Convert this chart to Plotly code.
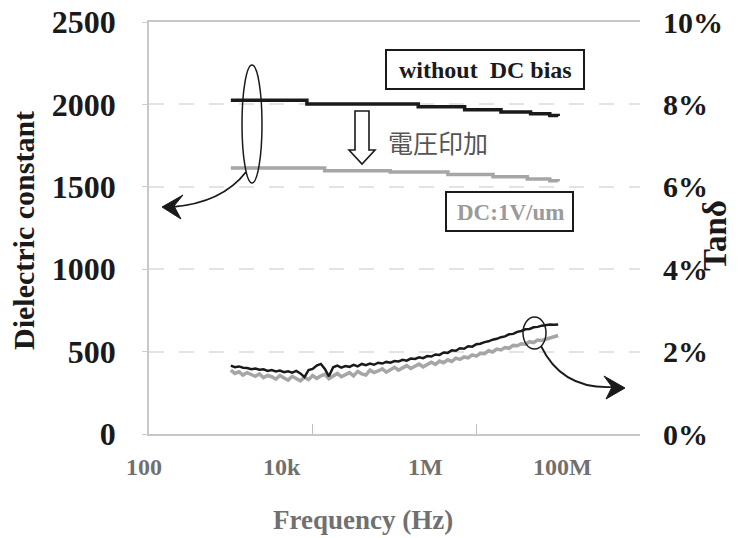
import plotly.graph_objects as go

# ---------------- data ----------------
# Dielectric constant (step-like traces)
eps_freq_nobias = [1.0e3, 8.5e3, 1.95e5, 7.2e5, 2.0e6, 4.6e6, 7.9e6, 1.0e7]
eps_nobias = [2025, 2003, 1986, 1967, 1954, 1943, 1932, 1930]
eps_freq_bias = [1.0e3, 1.4e4, 8.9e4, 4.5e5, 1.6e6, 4.2e6, 7.9e6, 1.0e7]
eps_bias = [1614, 1597, 1590, 1574, 1561, 1548, 1536, 1533]

# Tan delta (%)
tan_freq = [1.00e3, 1.12e3, 1.26e3, 1.41e3, 1.58e3, 1.78e3, 2.00e3, 2.24e3, 2.51e3, 2.82e3,
            3.16e3, 3.55e3, 3.98e3, 4.47e3, 5.01e3, 5.62e3, 6.31e3, 7.08e3, 7.94e3, 8.91e3,
            1.00e4, 1.12e4, 1.26e4, 1.41e4, 1.58e4, 1.78e4, 2.00e4, 2.24e4, 2.51e4, 2.82e4,
            3.16e4, 3.55e4, 3.98e4, 4.47e4, 5.01e4, 5.62e4, 6.31e4, 7.08e4, 7.94e4, 8.91e4,
            1.00e5, 1.12e5, 1.26e5, 1.41e5, 1.58e5, 1.78e5, 2.00e5, 2.24e5, 2.51e5, 2.82e5,
            3.16e5, 3.55e5, 3.98e5, 4.47e5, 5.01e5, 5.62e5, 6.31e5, 7.08e5, 7.94e5, 8.91e5,
            1.00e6, 1.12e6, 1.26e6, 1.41e6, 1.58e6, 1.78e6, 2.00e6, 2.24e6, 2.51e6, 2.82e6,
            3.16e6, 3.55e6, 3.98e6, 4.47e6, 5.01e6, 5.62e6, 6.31e6, 7.08e6, 7.94e6, 8.91e6,
            1.00e7]
tan_nobias = [1.66, 1.62, 1.64, 1.61, 1.60, 1.57, 1.59, 1.56, 1.57, 1.53,
              1.55, 1.52, 1.54, 1.50, 1.52, 1.49, 1.53, 1.47, 1.38, 1.55,
              1.58, 1.66, 1.70, 1.58, 1.40, 1.62, 1.66, 1.61, 1.65, 1.63,
              1.68, 1.64, 1.70, 1.67, 1.71, 1.68, 1.73, 1.71, 1.75, 1.73,
              1.77, 1.76, 1.80, 1.78, 1.83, 1.82, 1.86, 1.84, 1.89, 1.88,
              1.93, 1.92, 1.98, 1.97, 2.03, 2.02, 2.08, 2.07, 2.13, 2.12,
              2.18, 2.19, 2.23, 2.25, 2.29, 2.31, 2.35, 2.37, 2.42, 2.43,
              2.48, 2.50, 2.54, 2.55, 2.59, 2.60, 2.63, 2.64, 2.66, 2.65,
              2.66]
tan_bias = [1.55, 1.47, 1.51, 1.43, 1.49, 1.44, 1.40, 1.46, 1.37, 1.42,
            1.39, 1.33, 1.42, 1.36, 1.31, 1.40, 1.35, 1.29, 1.38, 1.32,
            1.42, 1.35, 1.41, 1.45, 1.34, 1.40, 1.47, 1.39, 1.44, 1.49,
            1.41, 1.52, 1.46, 1.43, 1.55, 1.49, 1.53, 1.58, 1.50, 1.56,
            1.62, 1.55, 1.60, 1.66, 1.59, 1.64, 1.70, 1.63, 1.68, 1.74,
            1.69, 1.77, 1.73, 1.80, 1.76, 1.84, 1.81, 1.87, 1.85, 1.92,
            1.89, 1.96, 1.95, 2.02, 1.99, 2.06, 2.04, 2.10, 2.08, 2.15,
            2.14, 2.19, 2.18, 2.24, 2.22, 2.28, 2.27, 2.31, 2.33, 2.36,
            2.39]

x_tick_labels = ["100", "10k", "1M", "100M"]
y_left_ticks = [0, 500, 1000, 1500, 2000, 2500]
y_right_ticks = [0, 2, 4, 6, 8, 10]

# ---------------- layout geometry (pixels) ----------------
W, H = 750, 538
L, R, T, B = 149, 640, 22, 434


def px(x):
    return (x - L) / (R - L)


def py(y):
    return (B - y) / (B - T)


SERIF = "Liberation Serif, Times New Roman, serif"
BLACK = "#1a1a1a"
GRAY = "#a6a6a6"

fig = go.Figure()
fig.add_trace(go.Scatter(x=eps_freq_bias, y=eps_bias, mode="lines", line_shape="hv",
                         line=dict(color=GRAY, width=3.5), yaxis="y", showlegend=False))
fig.add_trace(go.Scatter(x=eps_freq_nobias, y=eps_nobias, mode="lines", line_shape="hv",
                         line=dict(color=BLACK, width=3.5), yaxis="y", showlegend=False))
fig.add_trace(go.Scatter(x=tan_freq, y=tan_bias, mode="lines",
                         line=dict(color=GRAY, width=3.5), yaxis="y2", showlegend=False))
fig.add_trace(go.Scatter(x=tan_freq, y=tan_nobias, mode="lines",
                         line=dict(color=BLACK, width=2.5), yaxis="y2", showlegend=False))

shapes = []
# annotation boxes
shapes.append(dict(type="rect", xref="paper", yref="paper", x0=px(386), x1=px(584), y0=py(89), y1=py(50),
                   line=dict(color=BLACK, width=2)))
shapes.append(dict(type="rect", xref="paper", yref="paper", x0=px(446), x1=px(573), y0=py(231), y1=py(192),
                   line=dict(color=BLACK, width=2)))
# ellipses
shapes.append(dict(type="circle", xref="paper", yref="paper", x0=px(242), x1=px(262), y0=py(183), y1=py(65),
                   line=dict(color=BLACK, width=1.5)))
shapes.append(dict(type="circle", xref="paper", yref="paper", x0=px(523), x1=px(546), y0=py(349), y1=py(317),
                   line=dict(color=BLACK, width=1.5)))

# curved arrows
shapes.append(dict(type="path", xref="paper", yref="paper",
                   path=f"M {px(246)},{py(172)} Q {px(222)},{py(203)} {px(172)},{py(207)}",
                   line=dict(color=BLACK, width=1.8)))
shapes.append(dict(type="path", xref="paper", yref="paper",
                   path=f"M {px(174)},{py(206)} L {px(183)},{py(195)} L {px(162)},{py(207)} L {px(181)},{py(219)} Z",
                   fillcolor=BLACK, line=dict(color=BLACK, width=1)))
shapes.append(dict(type="path", xref="paper", yref="paper",
                   path=f"M {px(541)},{py(346)} Q {px(562)},{py(390)} {px(614)},{py(387)}",
                   line=dict(color=BLACK, width=1.8)))
shapes.append(dict(type="path", xref="paper", yref="paper",
                   path=f"M {px(612)},{py(387)} L {px(604)},{py(376)} L {px(625)},{py(388)} L {px(606)},{py(399)} Z",
                   fillcolor=BLACK, line=dict(color=BLACK, width=1)))
# hollow down arrow
shapes.append(dict(type="path", xref="paper", yref="paper",
                   path=(f"M {px(355)},{py(111)} L {px(369)},{py(111)} L {px(369)},{py(150)} "
                         f"L {px(375)},{py(150)} L {px(362)},{py(164)} L {px(349)},{py(150)} "
                         f"L {px(355)},{py(150)} Z"),
                   fillcolor="white", line=dict(color=BLACK, width=1.6)))


def ann(x, y, text, size, color, family=SERIF, xanchor="center", angle=0):
    return dict(xref="paper", yref="paper", x=px(x), y=py(y), text=text, showarrow=False,
                xanchor=xanchor, yanchor="middle", textangle=angle,
                font=dict(family=family, size=size, color=color))


annotations = [
    ann(485, 70, "<b>without  DC bias</b>", 24, BLACK),
    ann(510, 212, "<b>DC:1V/um</b>", 23, "#9a9a9a"),
    ann(386, 142, "電圧印加", 25, "#555555", family="Noto Sans CJK JP", xanchor="left"),
    ann(363, 520, "<b>Frequency (Hz)</b>", 27, "#707070"),
    ann(23, 230, "<b>Dielectric constant</b>", 30, BLACK, angle=-90),
    ann(715, 236, "<b>Tanδ</b>", 33, BLACK, angle=-90),
]
# x tick labels (as printed in the original)
for lab, cx in zip(x_tick_labels, [144, 282, 425, 562]):
    annotations.append(ann(cx, 467, f"<b>{lab}</b>", 24, "#707070"))

fig.update_layout(
    width=W, height=H,
    margin=dict(l=L, r=W - R, t=T, b=H - B, pad=0, autoexpand=False),
    paper_bgcolor="white", plot_bgcolor="white",
    shapes=shapes, annotations=annotations,
    xaxis=dict(type="log", range=[2, 8], showgrid=False, zeroline=False,
               showline=True, linecolor="#c8c8c8", linewidth=1.5, mirror=True,
               tickvals=[1e4, 1e6], ticks="inside", ticklen=10, tickcolor="#c0c0c0",
               showticklabels=False),
    yaxis=dict(range=[0, 2500], tickvals=y_left_ticks, ticktext=[f"<b>{v}</b>" for v in y_left_ticks],
               showgrid=True, gridcolor="#e3e3e3", gridwidth=1.5, griddash="longdash",
               zeroline=False, showline=True, linecolor="#c8c8c8", linewidth=1.5,
               ticks="outside", ticklen=5, tickcolor="#cccccc", ticklabelstandoff=20,
               tickfont=dict(family=SERIF, size=32, color=BLACK)),
    yaxis2=dict(range=[0, 10], tickvals=y_right_ticks, overlaying="y", side="right", showgrid=False,
                zeroline=False, showline=False, ticks="", ticklabelstandoff=22,
                ticktext=[f"<b>{v}%</b>" for v in y_right_ticks],
                tickfont=dict(family=SERIF, size=30, color=BLACK)),
)

fig.write_html("out.html", config={"displayModeBar": False},
               post_script="document.body.style.margin='0';")
